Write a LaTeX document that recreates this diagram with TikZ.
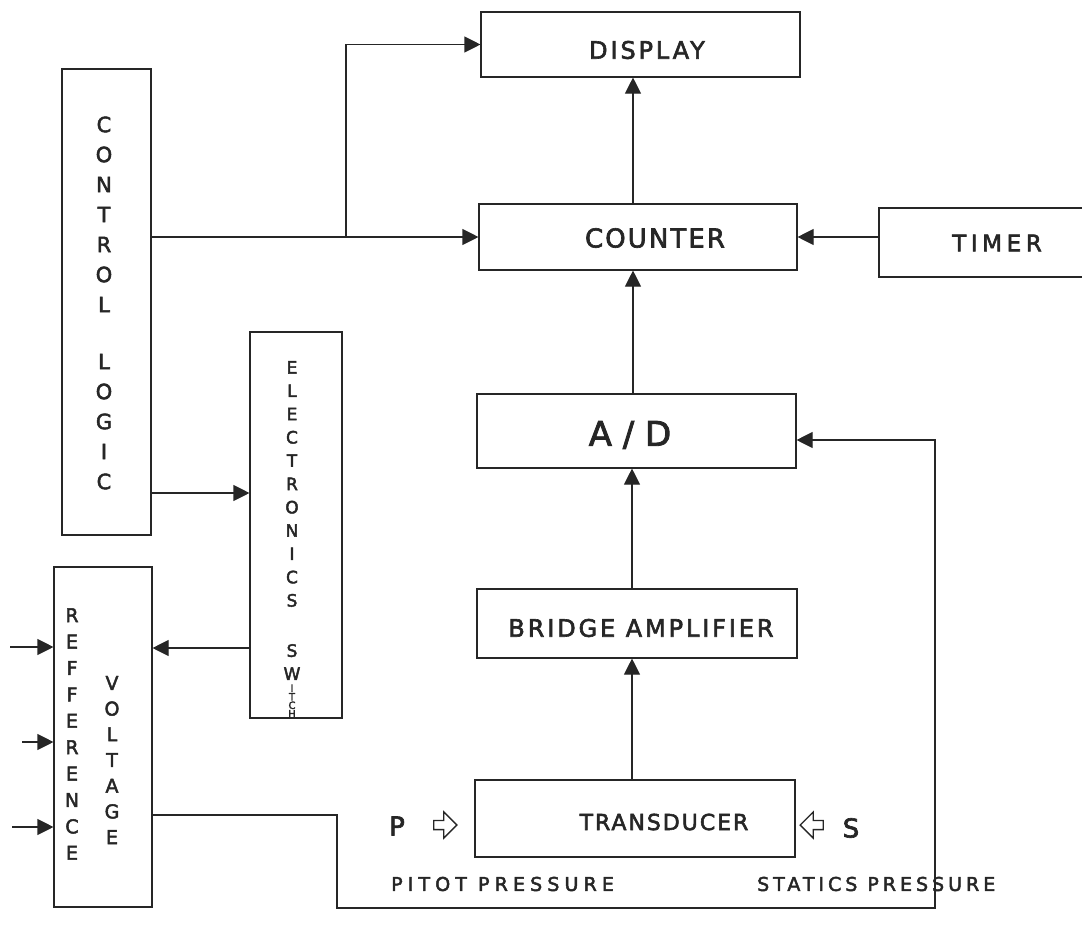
\documentclass[tikz,border=0pt]{standalone}
\usepackage{fontspec}
\setmainfont{DejaVu Sans}[FakeBold=2.5]
\usetikzlibrary{arrows.meta,shapes.arrows}
\newcommand{\lsp}[1]{\addfontfeature{LetterSpace=#1}}
\begin{document}
\begin{tikzpicture}[x=1pt,y=-1pt,
  ink/.style={draw=black!85, line width=1.1pt},
  box/.style={ink, rectangle, inner sep=0pt},
  arr/.style={ink, -{Triangle[length=16pt,width=16pt]}},
  lbl/.style={inner sep=0pt, text=black!85},
  vstack/.style={lbl, align=center},
  hollow/.style={single arrow, draw=black!85, line width=1.4pt, fill=white,
     minimum height=23pt, minimum width=26pt, single arrow head extend=5pt,
     single arrow head indent=0pt, inner sep=2pt}
]
\useasboundingbox (0,0) rectangle (1082,924);
\clip (0,0) rectangle (1082,924);

% boxes
\node[box, minimum width=319pt, minimum height=65pt] (display) at (640.5,44.5) {};
\node[box, minimum width=318pt, minimum height=66pt] (counter) at (638,237) {};
\node[box, minimum width=216pt, minimum height=69pt] (timer) at (987,242.5) {};
\node[box, minimum width=319pt, minimum height=74pt] (ad) at (636.5,431) {};
\node[box, minimum width=320pt, minimum height=69pt] (bridge) at (637,623.5) {};
\node[box, minimum width=320pt, minimum height=77pt] (trans) at (635,818.5) {};
\node[box, minimum width=89pt, minimum height=466pt] (control) at (106.5,302) {};
\node[box, minimum width=92pt, minimum height=386pt] (switch) at (296,525) {};
\node[box, minimum width=98pt, minimum height=340pt] (ref) at (103,737) {};

% box texts
\node[lbl, font=\fontsize{24}{28}\selectfont\lsp{12}] (displayt) at (647,50) {DISPLAY};
\node[lbl, font=\fontsize{26}{30}\selectfont\lsp{8}] (countert) at (655,238) {COUNTER};
\node[lbl, font=\fontsize{23}{28}\selectfont\lsp{20}] (timert) at (997,243) {TIMER};
\node[lbl, font=\fontsize{34}{38}\selectfont] (adt) at (630,435) {A / D};
\node[lbl, font=\fontsize{24}{28}\selectfont\lsp{12}] (bridget) at (641,628) {BRIDGE AMPLIFIER};
\node[lbl, font=\fontsize{22}{26}\selectfont\lsp{9}] (transt) at (664,822) {TRANSDUCER};

\node[vstack, font=\fontsize{21}{30}\selectfont] (controlt) at (104,303)
  {C\\O\\N\\T\\R\\O\\L\\[27pt]L\\O\\G\\I\\C};
\node[vstack, font=\fontsize{17}{23.3}\selectfont] (elect) at (292,484)
  {E\\L\\E\\C\\T\\R\\O\\N\\I\\C\\S};
\node[vstack, font=\fontsize{17}{23}\selectfont] (swt) at (292,662) {S\\W};
\node[vstack, font=\fontsize{10}{8.5}\selectfont] (itcht) at (292,701) {I\\T\\C\\H};
\node[vstack, font=\fontsize{19}{26.4}\selectfont] (reft) at (72,734)
  {R\\E\\F\\F\\E\\R\\E\\N\\C\\E};
\node[vstack, font=\fontsize{19}{25.7}\selectfont] (voltt) at (112,760)
  {V\\O\\L\\T\\A\\G\\E};

% transducer side labels
\node[lbl, font=\fontsize{26}{30}\selectfont] (p) at (397,826) {P};
\node[hollow] (parr) at (443,825) {};
\node[lbl, font=\fontsize{26}{30}\selectfont] (s) at (851,828) {S};
\node[hollow, shape border rotate=180] (sarr) at (814,825) {};
\node[lbl, font=\fontsize{19}{22}\selectfont\lsp{27}, anchor=west] (pitot) at (391,884) {PITOT PRESSURE};
\node[lbl, font=\fontsize{19}{22}\selectfont\lsp{21}, anchor=west] (statics) at (757,884) {STATICS PRESSURE};

% connectors
\path (control.east |- counter.west) coordinate (cl1);
\draw[arr] (cl1) -- (counter.west);
\coordinate (br) at (346,237);
\draw[arr] (br) |- (display.west);
\path ([xshift=-5pt]counter.north) coordinate (cn);
\draw[arr] (cn) -- (cn |- display.south);
\draw[arr] (timer.west |- counter.east) -- (counter.east);
\path ([xshift=-3.5pt]ad.north) coordinate (an);
\draw[arr] (an) -- (an |- counter.south);
\path ([xshift=-5pt]bridge.north) coordinate (bn);
\draw[arr] (bn) -- (bn |- ad.south);
\path ([xshift=-3pt]trans.north) coordinate (tn);
\draw[arr] (tn) -- (tn |- bridge.south);

\path ([yshift=-191pt]control.east) coordinate (cl2);
\draw[arr] (cl2) -- (cl2 -| switch.west);
\path ([yshift=-123pt]switch.west) coordinate (sw2);
\draw[arr] (sw2) -- (sw2 -| ref.east);

\coordinate (in1) at (10,647);
\coordinate (in2) at (22,742);
\coordinate (in3) at (12,827);
\draw[arr] (in1) -- (in1 -| ref.west);
\draw[arr] (in2) -- (in2 -| ref.west);
\draw[arr] (in3) -- (in3 -| ref.west);

\path ([yshift=-78pt]ref.east) coordinate (rv2);
\coordinate (fb1) at (337,908);
\coordinate (fb2) at (935,908);
\path ([yshift=-9pt]ad.east) coordinate (ad2);
\draw[arr] (rv2) -| (fb1) -- (fb2) |- (ad2);
\end{tikzpicture}
\end{document}
